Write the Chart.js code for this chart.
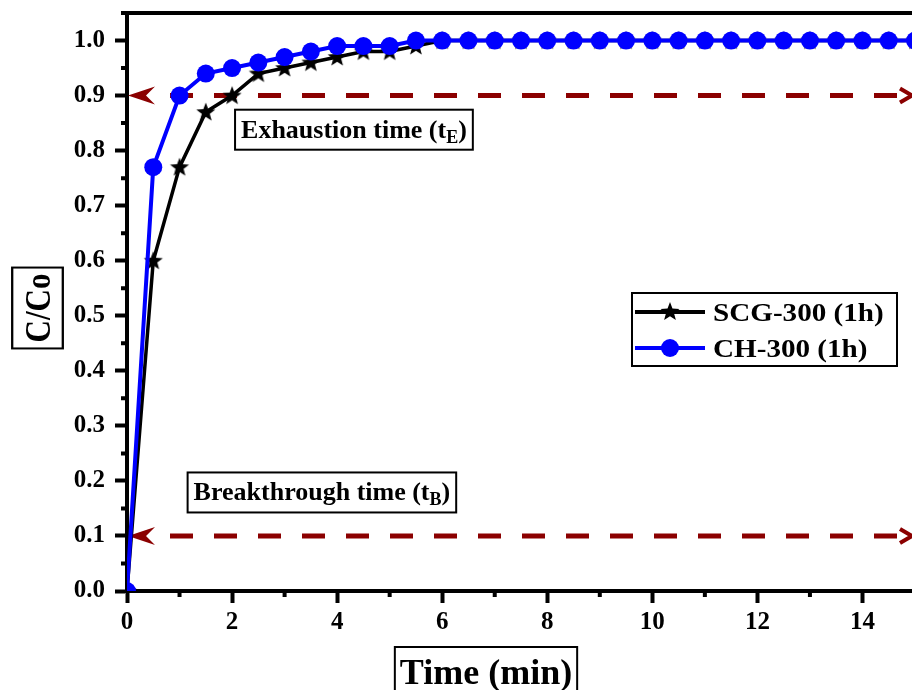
<!DOCTYPE html>
<html>
<head>
<meta charset="utf-8">
<script src="https://cdn.jsdelivr.net/npm/chart.js@4.4.1/dist/chart.umd.min.js"></script>
<style>
  html, body { margin: 0; padding: 0; background: #fff; overflow: hidden; }
  #wrap { width: 912px; height: 690px; overflow: hidden; }
  canvas { display: block; }
</style>
</head>
<body>
<div id="wrap"><canvas id="chart" width="930" height="690"></canvas></div>
<script>
const timeMin = [0, 0.5, 1, 1.5, 2, 2.5, 3, 3.5, 4, 4.5, 5, 5.5, 6, 6.5, 7, 7.5,
  8, 8.5, 9, 9.5, 10, 10.5, 11, 11.5, 12, 12.5, 13, 13.5, 14, 14.5, 15];
const scgValues = [0, 0.60, 0.77, 0.87, 0.90, 0.94, 0.95, 0.96, 0.97, 0.98, 0.98, 0.99, 1.0, 1.0, 1.0, 1.0,
  1.0, 1.0, 1.0, 1.0, 1.0, 1.0, 1.0, 1.0, 1.0, 1.0, 1.0, 1.0, 1.0, 1.0, 1.0];
const chValues = [0, 0.77, 0.90, 0.94, 0.95, 0.96, 0.97, 0.98, 0.99, 0.99, 0.99, 1.0, 1.0, 1.0, 1.0, 1.0,
  1.0, 1.0, 1.0, 1.0, 1.0, 1.0, 1.0, 1.0, 1.0, 1.0, 1.0, 1.0, 1.0, 1.0, 1.0];

const xTicks = [0, 2, 4, 6, 8, 10, 12, 14];
const xMinorTicks = [1, 3, 5, 7, 9, 11, 13, 15];
const yTicks = [0, 0.1, 0.2, 0.3, 0.4, 0.5, 0.6, 0.7, 0.8, 0.9, 1.0];
const yMinorTicks = [0.05, 0.15, 0.25, 0.35, 0.45, 0.55, 0.65, 0.75, 0.85, 0.95, 1.05];

const exhaustionLevel = 0.9;
const breakthroughLevel = 0.1;

const FONT = '"Liberation Serif", "Times New Roman", serif';
const ARROW_RED = "#8b0000";

const drawStar = (ctx, cx, cy, ro, ri) => {
  ctx.beginPath();
  for (let i = 0; i < 10; i++) {
    const r = i % 2 === 0 ? ro : ri;
    const a = -Math.PI / 2 + (i * Math.PI) / 5;
    const px = cx + r * Math.cos(a);
    const py = cy + r * Math.sin(a);
    if (i === 0) ctx.moveTo(px, py);
    else ctx.lineTo(px, py);
  }
  ctx.closePath();
  ctx.fill();
};

// star marker for the SCG series
const starImg = document.createElement("canvas");
starImg.width = 22;
starImg.height = 22;
const sctx = starImg.getContext("2d");
sctx.fillStyle = "#000";
drawStar(sctx, 11, 11.5, 10, 4.2);

const toPoints = (xs, ys) => xs.map((x, i) => ({ x: x, y: ys[i] }));

// text with a subscript, e.g. "Exhaustion time (t" + "E" + ")"
const drawBoxedLabel = (ctx, cx, cy, main, sub, size) => {
  const big = `bold ${size}px ${FONT}`;
  const small = `bold ${Math.round(size * 0.68)}px ${FONT}`;
  ctx.font = big;
  const w1 = ctx.measureText(main).width;
  const w3 = ctx.measureText(")").width;
  ctx.font = small;
  const w2 = ctx.measureText(sub).width;
  const total = w1 + w2 + w3;
  const bw = total + 12;
  const bh = 40;
  ctx.fillStyle = "#fff";
  ctx.fillRect(cx - bw / 2, cy - bh / 2, bw, bh);
  ctx.strokeStyle = "#000";
  ctx.lineWidth = 2;
  ctx.strokeRect(cx - bw / 2, cy - bh / 2, bw, bh);
  ctx.fillStyle = "#000";
  ctx.textBaseline = "alphabetic";
  ctx.textAlign = "left";
  let x = cx - total / 2;
  const base = cy + 8;
  ctx.font = big;
  ctx.fillText(main, x, base);
  x += w1;
  ctx.font = small;
  ctx.fillText(sub, x, base + 5);
  x += w2;
  ctx.font = big;
  ctx.fillText(")", x, base);
};

const drawArrowLine = (ctx, area, py) => {
  const left = area.left;
  const right = area.right;
  ctx.save();
  ctx.strokeStyle = ARROW_RED;
  ctx.fillStyle = ARROW_RED;
  ctx.lineWidth = 5;
  ctx.setLineDash([23, 21]);
  ctx.beginPath();
  ctx.moveTo(left + 43, py);
  ctx.lineTo(right - 12, py);
  ctx.stroke();
  ctx.setLineDash([]);
  // left arrowhead
  ctx.beginPath();
  ctx.moveTo(left + 1, py);
  ctx.lineTo(left + 28, py - 9);
  ctx.lineTo(left + 19, py);
  ctx.lineTo(left + 28, py + 9);
  ctx.closePath();
  ctx.fill();
  // right chevron
  ctx.lineWidth = 4;
  ctx.beginPath();
  ctx.moveTo(right - 15, py - 7);
  ctx.lineTo(right - 3, py);
  ctx.lineTo(right - 15, py + 7);
  ctx.stroke();
  ctx.restore();
};

const decorations = {
  id: "decorations",
  beforeDatasetsDraw(chart) {
    const { ctx, chartArea, scales } = chart;
    drawArrowLine(ctx, chartArea, scales.y.getPixelForValue(exhaustionLevel));
    drawArrowLine(ctx, chartArea, scales.y.getPixelForValue(breakthroughLevel));
  },
  afterDraw(chart) {
    const { ctx, chartArea, scales } = chart;
    const { x, y } = scales;
    ctx.save();

    // top and right frame lines
    ctx.strokeStyle = "#000";
    ctx.lineWidth = 4;
    ctx.beginPath();
    ctx.moveTo(chartArea.left - 2, chartArea.top);
    ctx.lineTo(chartArea.right + 2, chartArea.top);
    ctx.moveTo(chartArea.right, chartArea.top);
    ctx.lineTo(chartArea.right, chartArea.bottom);
    ctx.stroke();

    // minor ticks
    ctx.beginPath();
    xMinorTicks.forEach((v) => {
      const px = x.getPixelForValue(v);
      ctx.moveTo(px, chartArea.bottom);
      ctx.lineTo(px, chartArea.bottom + 6);
    });
    yMinorTicks.forEach((v) => {
      const py = y.getPixelForValue(v);
      ctx.moveTo(chartArea.left, py);
      ctx.lineTo(chartArea.left - 6, py);
    });
    ctx.stroke();

    // annotation boxes
    drawBoxedLabel(ctx, x.getPixelForValue(4.32), y.getPixelForValue(0.838), "Exhaustion time (t", "E", 26);
    drawBoxedLabel(ctx, x.getPixelForValue(3.71), y.getPixelForValue(0.179), "Breakthrough time (t", "B", 26);

    // legend
    const lx = chartArea.left + 505;
    const ly = chartArea.top + 280;
    ctx.fillStyle = "#fff";
    ctx.fillRect(lx, ly, 265, 73);
    ctx.lineWidth = 2;
    ctx.strokeStyle = "#000";
    ctx.strokeRect(lx, ly, 265, 73);
    const rows = [
      { label: "SCG-300 (1h)", color: "#000", star: true, cy: ly + 19 },
      { label: "CH-300 (1h)", color: "#0000ff", star: false, cy: ly + 55 },
    ];
    rows.forEach((r) => {
      ctx.strokeStyle = r.color;
      ctx.fillStyle = r.color;
      ctx.lineWidth = 4;
      ctx.beginPath();
      ctx.moveTo(lx + 3, r.cy);
      ctx.lineTo(lx + 73, r.cy);
      ctx.stroke();
      if (r.star) {
        drawStar(ctx, lx + 38, r.cy, 10, 4.2);
      } else {
        ctx.beginPath();
        ctx.arc(lx + 38, r.cy, 9, 0, Math.PI * 2);
        ctx.fill();
      }
      ctx.save();
      ctx.translate(lx + 81, r.cy + 9);
      ctx.scale(1.12, 1);
      ctx.fillStyle = "#000";
      ctx.font = `bold 26px ${FONT}`;
      ctx.textAlign = "left";
      ctx.textBaseline = "alphabetic";
      ctx.fillText(r.label, 0, 0);
      ctx.restore();
    });

    // y axis title
    ctx.save();
    ctx.translate(37.5, 308);
    ctx.rotate(-Math.PI / 2);
    ctx.scale(1, 1.15);
    ctx.font = `bold 31px ${FONT}`;
    const tw = ctx.measureText("C/Co").width;
    ctx.fillStyle = "#fff";
    ctx.fillRect(-tw / 2 - 6, -22, tw + 12, 44);
    ctx.strokeStyle = "#000";
    ctx.lineWidth = 2;
    ctx.strokeRect(-tw / 2 - 6, -22, tw + 12, 44);
    ctx.fillStyle = "#000";
    ctx.textAlign = "center";
    ctx.textBaseline = "alphabetic";
    ctx.fillText("C/Co", 0, 11);
    ctx.restore();

    // x axis title
    ctx.font = `bold 36px ${FONT}`;
    const xw = ctx.measureText("Time (min)").width;
    ctx.lineWidth = 2;
    ctx.strokeStyle = "#000";
    ctx.strokeRect(486 - xw / 2 - 5, 647, xw + 10, 60);
    ctx.fillStyle = "#000";
    ctx.textAlign = "center";
    ctx.textBaseline = "alphabetic";
    ctx.fillText("Time (min)", 486, 684);

    ctx.restore();
  },
};

const tickFont = { family: FONT, size: 25, weight: "bold", lineHeight: 1 };

new Chart(document.getElementById("chart"), {
  type: "line",
  data: {
    datasets: [
      {
        label: "CH-300 (1h)",
        data: toPoints(timeMin, chValues),
        borderColor: "#0000ff",
        backgroundColor: "#0000ff",
        borderWidth: 4,
        pointStyle: "circle",
        pointRadius: 9,
        pointBorderWidth: 0,
        tension: 0,
        clip: 0,
        order: 0,
      },
      {
        label: "SCG-300 (1h)",
        data: toPoints(timeMin, scgValues),
        borderColor: "#000",
        backgroundColor: "#000",
        borderWidth: 3.5,
        pointStyle: starImg,
        tension: 0,
        clip: 0,
        order: 1,
      },
    ],
  },
  options: {
    responsive: false,
    animation: false,
    devicePixelRatio: 1,
    layout: { padding: { top: 13, right: 15, left: 0, bottom: 0 } },
    plugins: {
      legend: { display: false },
      tooltip: { enabled: false },
    },
    scales: {
      x: {
        type: "linear",
        min: 0,
        max: 15,
        afterBuildTicks: (scale) => {
          scale.ticks = xTicks.map((v) => ({ value: v }));
        },
        afterFit: (scale) => {
          scale.height = 99;
          scale.paddingLeft = 0;
          scale.paddingRight = 0;
        },
        border: { display: true, color: "#000", width: 4 },
        grid: { drawOnChartArea: false, drawTicks: true, tickLength: 12, tickWidth: 4, tickColor: "#000" },
        ticks: { color: "#000", font: tickFont, padding: 7, maxRotation: 0, autoSkip: false },
      },
      y: {
        type: "linear",
        min: 0,
        max: 1.05,
        afterBuildTicks: (scale) => {
          scale.ticks = yTicks.map((v) => ({ value: v }));
        },
        afterFit: (scale) => {
          scale.width = 127;
          scale.paddingTop = 0;
          scale.paddingBottom = 0;
        },
        border: { display: true, color: "#000", width: 4 },
        grid: { drawOnChartArea: false, drawTicks: true, tickLength: 12, tickWidth: 4, tickColor: "#000" },
        ticks: {
          color: "#000",
          font: tickFont,
          padding: 10,
          autoSkip: false,
          callback: (v) => Number(v).toFixed(1),
        },
      },
    },
  },
  plugins: [decorations],
});
</script>
</body>
</html>
